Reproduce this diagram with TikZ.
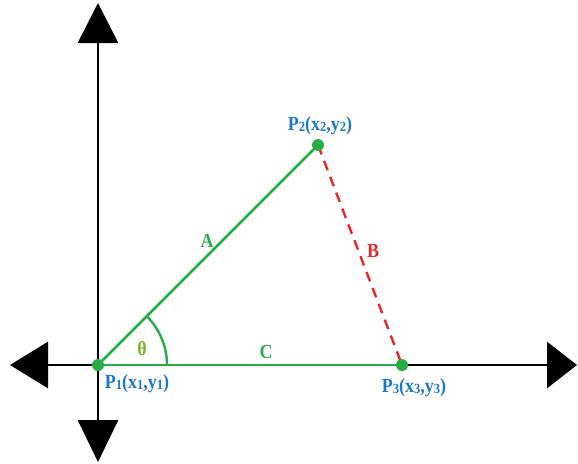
\documentclass[tikz,border=0pt]{standalone}
\usepackage{amsmath,amssymb}
\usepackage{fontspec}
\setmainfont{Liberation Serif}[FakeStretch=0.9]
\usepackage{tikz}
\usetikzlibrary{arrows.meta,positioning,calc}
\definecolor{sidegreen}{RGB}{40,172,72}
\definecolor{labelblue}{RGB}{30,120,200}
\definecolor{sidered}{RGB}{232,40,40}
\definecolor{anglegreen}{RGB}{130,175,40}
\newcommand{\lowidx}[1]{{\fontsize{14}{14}\selectfont\raisebox{-1pt}{#1}}}

\begin{document}
\begin{tikzpicture}[x=1pt,y=-1pt,font=\fontsize{20}{20}\selectfont\bfseries]
\useasboundingbox (0,0) rectangle (578,463);
\coordinate (top) at (98,3);
\coordinate (bottom) at (98,462);
\coordinate (left) at (10,365);
\coordinate (right) at (577,365);
\draw[line width=2.8pt,{Triangle[width=40pt,length=40pt]}-{Triangle[width=40pt,length=42pt]}] (top)--(bottom);
\draw[line width=2.8pt,{Triangle[width=46pt,length=38pt]}-{Triangle[width=46pt,length=30pt]}] (left)--(right);
\coordinate (p1) at (98,365);
\coordinate (p2) at (318,145);
\coordinate (p3) at (402,365);
\draw[sidegreen,line width=2.8pt] (p1)--(p2);
\draw[sidegreen,line width=2.8pt] (p1)--(p3);
\draw[sidered,line width=2.4pt,dash pattern=on 10pt off 7pt] (p2)--(p3);
\draw[sidegreen,line width=2.4pt] ($(p1)+(69,0)$) arc[start angle=0,end angle=-45,radius=69];
\foreach \p in {p1,p2,p3}{\fill[sidegreen] (\p) circle (6);}
\node[labelblue] (l1) at (137,384) {P\lowidx{1}(x\lowidx{1},y\lowidx{1})};
\node[labelblue] (l2) at (320,126) {P\lowidx{2}(x\lowidx{2},y\lowidx{2})};
\node[labelblue] (l3) at (414,388) {P\lowidx{3}(x\lowidx{3},y\lowidx{3})};
\node[sidegreen] (a) at (207,241) {A};
\node[sidered] (b) at (373,251) {B};
\node[sidegreen] (c) at (266,352) {C};
\node[anglegreen] (theta) at (142,349) {θ};
\end{tikzpicture}
\end{document}
